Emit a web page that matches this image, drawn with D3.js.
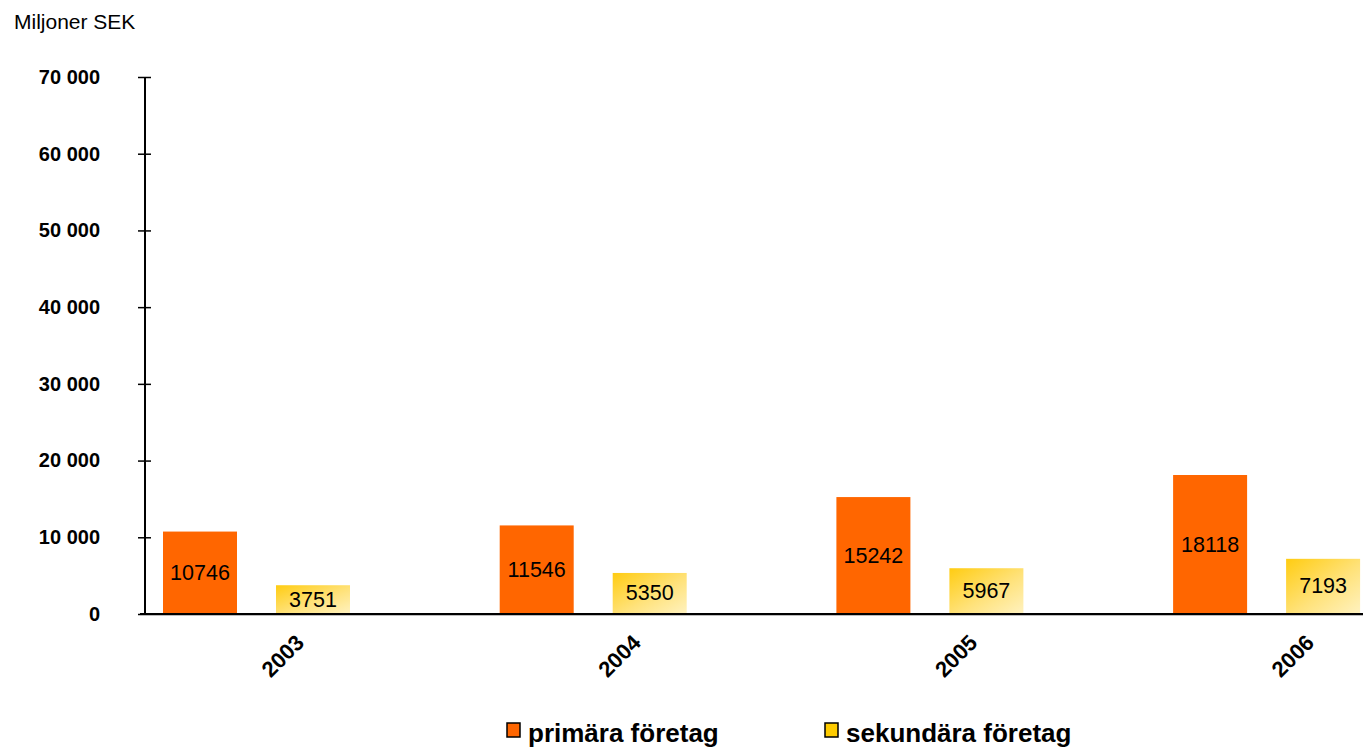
<!DOCTYPE html>
<html>
<head>
<meta charset="utf-8">
<script src="https://cdn.jsdelivr.net/npm/d3@7"></script>
<style>
  body { margin: 0; background: #fff; }
  svg { display: block; font-family: "Liberation Sans", Arial, sans-serif; }
  .ytick text { font-weight: bold; font-size: 20px; }
  .xlab { font-weight: bold; font-size: 22px; }
  .val { font-size: 21.5px; }
  .leg { font-weight: bold; font-size: 26px; }
</style>
</head>
<body>
<script>
// data
const years = ["2003", "2004", "2005", "2006"];
const primara = [10746, 11546, 15242, 18118];
const sekundara = [3751, 5350, 5967, 7193];
const seriesNames = ["primära företag", "sekundära företag"];
const yTicks = [0, 10000, 20000, 30000, 40000, 50000, 60000, 70000];

const W = 1363, H = 747;
const svg = d3.select("body").append("svg").attr("width", W).attr("height", H);

const defs = svg.append("defs");
const grad = defs.append("linearGradient").attr("id", "yel")
    .attr("x1", "0%").attr("y1", "0%").attr("x2", "100%").attr("y2", "100%");
grad.append("stop").attr("offset", "0%").attr("stop-color", "#ffcc11");
grad.append("stop").attr("offset", "55%").attr("stop-color", "#ffe27a");
grad.append("stop").attr("offset", "100%").attr("stop-color", "#fff2c0");

const x0 = 145, y0 = 614, yTop = 77;
const step = 336.7;

const x = d3.scaleBand().domain(years).range([x0, x0 + step * years.length]).paddingInner(0).paddingOuter(0);
const y = d3.scaleLinear().domain([0, 70000]).range([y0, yTop]);

// Miljoner SEK
svg.append("text").attr("x", 14).attr("y", 29).attr("font-size", 21).text("Miljoner SEK");

// y axis
const yAxis = svg.append("g").attr("transform", `translate(${x0},0)`)
    .call(d3.axisLeft(y).tickValues(yTicks).tickSize(7).tickPadding(38)
        .tickFormat(d => d3.format(",")(d).replace(/,/g, " ")));
yAxis.select(".domain").remove();
yAxis.selectAll(".tick").attr("class", "tick ytick");
yAxis.selectAll(".tick line").attr("x1", -7).attr("x2", 6).attr("stroke", "#000").attr("stroke-width", 1.5);
yAxis.selectAll(".tick text").attr("fill", "#000");
svg.append("line").attr("x1", x0).attr("x2", x0).attr("y1", yTop).attr("y2", y0)
    .attr("stroke", "#000").attr("stroke-width", 2);

// bars
const barW = 74;
const offP = 18, offS = 131;
const g = svg.append("g");

years.forEach((yr, i) => {
  const bx = x(yr);
  [[primara[i], offP, "#ff6600"], [sekundara[i], offS, "url(#yel)"]].forEach(([v, off, fill]) => {
    g.append("rect").attr("x", bx + off).attr("width", barW)
      .attr("y", y(v)).attr("height", y0 - y(v)).attr("fill", fill);
    g.append("text").attr("class", "val")
      .attr("x", bx + off + barW / 2).attr("y", (y(v) + y0) / 2)
      .attr("text-anchor", "middle").attr("dominant-baseline", "central")
      .text(v);
  });
});

// x axis line
svg.append("line").attr("x1", 140).attr("x2", W).attr("y1", y0 + 1).attr("y2", y0 + 1)
  .attr("stroke", "#bbb").attr("stroke-width", 2);
svg.append("line").attr("x1", 140).attr("x2", W).attr("y1", y0).attr("y2", y0)
  .attr("stroke", "#000").attr("stroke-width", 2);

// x labels rotated
years.forEach(yr => {
  const cx = x(yr) + x.bandwidth() / 2 - 8;
  svg.append("text").attr("class", "xlab")
    .attr("transform", `translate(${cx},${y0 + 30}) rotate(-45)`)
    .attr("text-anchor", "end").text(yr);
});

// legend
const legColors = ["#ff6600", "#ffcc00"];
const legX = [507, 825];
seriesNames.forEach((name, i) => {
  svg.append("rect").attr("x", legX[i]).attr("y", 723).attr("width", 13).attr("height", 14)
    .attr("fill", legColors[i]).attr("stroke", "#000").attr("stroke-width", 1.5);
  svg.append("text").attr("class", "leg").attr("x", legX[i] + 21).attr("y", 742).text(name);
});
</script>
</body>
</html>
